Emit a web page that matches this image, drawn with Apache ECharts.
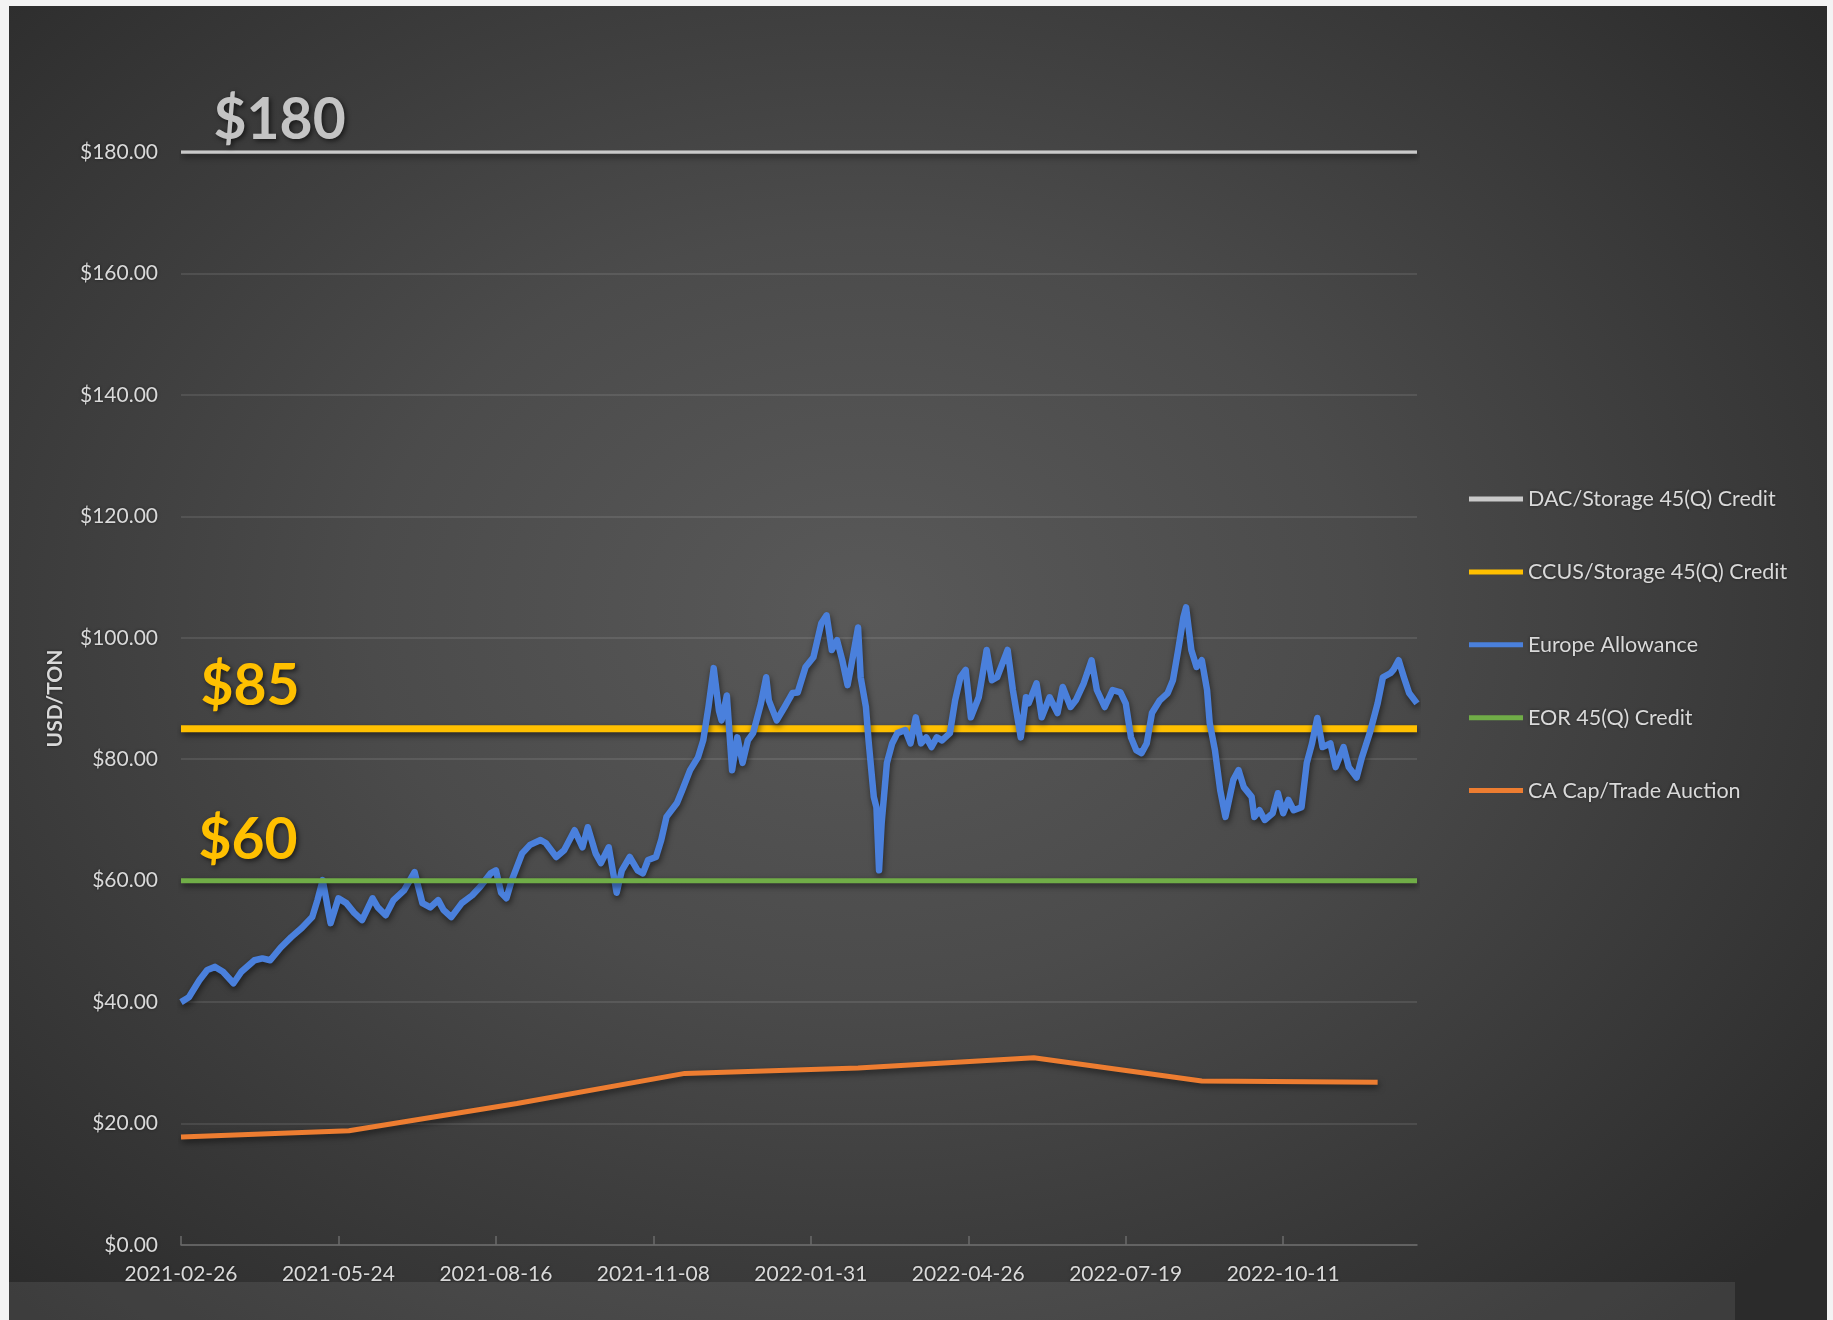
<!DOCTYPE html>
<html>
<head>
<meta charset="utf-8">
<title>Carbon price vs. 45(Q) credits</title>
<script src="https://cdn.jsdelivr.net/npm/echarts@6/dist/echarts.min.js"></script>
<style>
  html, body { margin: 0; padding: 0; background: #f3f3f3; overflow: hidden; }
  #chart {
    position: absolute; left: 9px; top: 6px; width: 1818px; height: 1314px;
    background: radial-gradient(ellipse 68% 72% at 47% 46%, #595959 0%, #4b4b4b 40%, #2b2b2b 100%);
  }
</style>
</head>
<body>
<div id="chart"></div>
<script>
// Labelled dates on the horizontal axis (every 60 trading days)
const tickDates = ['2021-02-26', '2021-05-24', '2021-08-16', '2021-11-08',
                   '2022-01-31', '2022-04-26', '2022-07-19', '2022-10-11'];
const daysPerTick = 60;
const lastDay = 471;

// Flat credit levels, USD/ton
const dacCredit = 180;
const ccusCredit = 85;
const eorCredit = 60;

// Europe Allowance price: trading-day index and USD/ton
const euaDay = [
  0, 3, 7, 10, 13, 16, 20, 23, 28, 31, 34, 38, 42, 46, 50, 52, 54, 57, 60, 63,
  66, 69, 73, 75, 78, 81, 85, 89, 92, 95, 98, 100, 103, 107, 111, 114, 118, 120, 122, 124,
  126, 130, 133, 137, 139, 143, 146, 150, 153, 155, 158, 160, 163, 166, 168, 171, 174, 176, 178, 181,
  183, 185, 189, 191, 194, 197, 199, 201, 203, 205, 206, 208, 210, 212, 214, 216, 218, 221, 223, 224,
  227, 230, 233, 235, 238, 241, 244, 246, 248, 250, 252, 254, 256, 258, 259, 261, 262, 264, 265, 266,
  267, 269, 271, 273, 276, 278, 280, 282, 284, 286, 288, 290, 293, 295, 297, 299, 301, 304, 307, 309,
  311, 315, 317, 320, 322, 323, 326, 328, 331, 334, 336, 339, 341, 344, 347, 349, 352, 355, 358, 360,
  362, 364, 366, 368, 370, 373, 376, 378, 380, 382, 383, 385, 387, 389, 391, 392, 394, 396, 398, 401,
  403, 405, 408, 409, 411, 413, 416, 418, 420, 422, 424, 427, 429, 431, 433, 435, 438, 440, 443, 445,
  448, 450, 453, 456, 458, 461, 462, 464, 466, 468, 471
];
const euaPrice = [
  40.0, 40.8, 43.6, 45.3, 45.8, 45.0, 43.1, 45.0, 46.9, 47.2, 46.9, 49.0, 50.7, 52.2, 54.0, 56.8, 60.1, 53.0, 57.1, 56.3,
  54.7, 53.5, 57.1, 55.6, 54.3, 56.8, 58.4, 61.4, 56.3, 55.6, 56.8, 55.2, 54.0, 56.3, 57.6, 59.0, 61.2, 61.7, 58.0, 57.1,
  60.0, 64.5, 65.9, 66.7, 66.2, 63.9, 65.0, 68.3, 65.5, 68.8, 64.5, 62.9, 65.5, 58.0, 61.7, 63.9, 61.7, 61.2, 63.4, 63.9,
  66.7, 70.5, 72.8, 74.9, 78.2, 80.3, 83.1, 88.6, 95.0, 88.0, 86.4, 90.5, 78.2, 83.6, 79.4, 83.1, 84.3, 89.2, 93.5, 89.7,
  86.4, 88.6, 90.9, 91.0, 95.2, 96.8, 102.4, 103.7, 98.0, 99.6, 96.3, 92.2, 96.8, 101.7, 93.5, 88.6, 83.1, 73.8, 72.1, 61.7,
  69.5, 79.4, 82.6, 84.3, 84.8, 82.6, 86.9, 82.6, 83.6, 82.0, 83.6, 83.1, 84.3, 89.7, 93.5, 94.7, 86.9, 90.2, 98.0, 93.0,
  93.5, 98.0, 91.4, 83.6, 90.2, 89.2, 92.5, 86.9, 90.2, 87.6, 91.9, 88.6, 89.7, 92.5, 96.3, 91.4, 88.6, 91.4, 91.0, 89.2,
  83.6, 81.5, 81.0, 82.6, 87.6, 89.7, 90.9, 93.0, 98.0, 103.4, 105.0, 98.0, 95.2, 96.3, 91.4, 86.0, 81.5, 74.9, 70.5, 76.6,
  78.2, 75.4, 73.8, 70.5, 71.6, 70.0, 71.1, 74.4, 71.1, 73.3, 71.6, 72.1, 79.4, 82.6, 86.8, 82.0, 82.6, 78.7, 82.0, 78.7,
  77.0, 80.3, 84.3, 89.2, 93.5, 94.2, 94.7, 96.3, 93.5, 90.9, 89.2
];

// California cap-and-trade quarterly auction settlement prices
const caDay = [0, 64, 128, 192, 258, 325, 389, 456];
const caPrice = [17.80, 18.80, 23.30, 28.26, 29.15, 30.85, 27.00, 26.80];

const textFont = 'Lato';
const axisText = '#d9d9d9';
const lineShadow = {
  shadowColor: 'rgba(0,0,0,0.55)', shadowBlur: 6, shadowOffsetX: 1, shadowOffsetY: 3
};

function flatLine(level) {
  return [[0, level], [lastDay, level]];
}

function pairs(xs, ys) {
  return xs.map((x, i) => [x, ys[i]]);
}

// Big "$NN" callout sitting just above the start of a credit line
function levelCallout(level, color, dx, dy) {
  return {
    silent: true,
    symbol: 'circle',
    symbolSize: 1,
    itemStyle: { color: 'rgba(0,0,0,0)' },
    data: [{
      coord: [0, level],
      label: {
        show: true,
        formatter: '$' + level,
        position: [dx, dy],
        align: 'left',
        verticalAlign: 'middle',
        color: color,
        fontFamily: textFont,
        fontWeight: 'bold',
        fontSize: 57,
        textShadowColor: 'rgba(0,0,0,0.6)',
        textShadowBlur: 5,
        textShadowOffsetX: 2,
        textShadowOffsetY: 2
      }
    }]
  };
}

const chart = echarts.init(document.getElementById('chart'), null, { renderer: 'canvas' });

chart.setOption({
  animation: false,
  backgroundColor: 'transparent',
  textStyle: { fontFamily: textFont },
  grid: { left: 172, top: 146, width: 1236, height: 1093, containLabel: false },
  graphic: [{
    type: 'rect',
    z: -1,
    shape: { x: 0, y: 1276, width: 1726, height: 40 },
    style: { fill: 'rgba(255,255,255,0.085)' }
  }],
  legend: {
    orient: 'vertical',
    left: 1460,
    top: 482,
    padding: 0,
    icon: 'rect',
    itemWidth: 54,
    itemHeight: 5,
    itemGap: 50.9,
    textStyle: {
      color: axisText, fontSize: 21.5, lineHeight: 20, fontFamily: textFont,
      textShadowColor: 'rgba(0,0,0,0.5)', textShadowBlur: 3
    },
    data: ['DAC/Storage 45(Q) Credit', 'CCUS/Storage 45(Q) Credit', 'Europe Allowance',
           'EOR 45(Q) Credit', 'CA Cap/Trade Auction']
  },
  xAxis: {
    type: 'value',
    min: 0,
    max: lastDay,
    axisLine: { show: true, lineStyle: { color: '#6b6b6b', width: 1.5 } },
    axisTick: {
      show: true, inside: true, length: 9,
      customValues: tickDates.map((d, i) => i * daysPerTick),
      lineStyle: { color: '#6b6b6b', width: 1.5 }
    },
    axisLabel: {
      customValues: tickDates.map((d, i) => i * daysPerTick),
      formatter: v => tickDates[Math.round(v / daysPerTick)] || '',
      color: axisText, fontSize: 21, fontFamily: textFont, margin: 19,
      textShadowColor: 'rgba(0,0,0,0.5)', textShadowBlur: 3
    },
    splitLine: { show: false }
  },
  yAxis: {
    type: 'value',
    min: 0,
    max: 180,
    interval: 20,
    name: 'USD/TON',
    nameLocation: 'middle',
    nameGap: 115,
    nameTextStyle: {
      color: axisText, fontSize: 21, fontWeight: 'bold', fontFamily: textFont,
      textShadowColor: 'rgba(0,0,0,0.5)', textShadowBlur: 3
    },
    axisLine: { show: false },
    axisTick: { show: false },
    axisLabel: {
      formatter: v => '$' + v.toFixed(2),
      color: axisText, fontSize: 21, fontFamily: textFont, margin: 23,
      textShadowColor: 'rgba(0,0,0,0.5)', textShadowBlur: 3
    },
    splitLine: { lineStyle: { color: 'rgba(255,255,255,0.13)', width: 1.5 } }
  },
  series: [
    {
      name: 'DAC/Storage 45(Q) Credit',
      type: 'line',
      symbol: 'none',
      color: '#c9c9c9',
      lineStyle: Object.assign({ color: '#c9c9c9', width: 3.5 }, lineShadow),
      data: flatLine(dacCredit),
      markPoint: levelCallout(dacCredit, '#c4c4c4', 33, -31)
    },
    {
      name: 'CCUS/Storage 45(Q) Credit',
      type: 'line',
      symbol: 'none',
      color: '#FFC000',
      lineStyle: Object.assign({ color: '#FFC000', width: 7 }, lineShadow),
      data: flatLine(ccusCredit),
      markPoint: levelCallout(ccusCredit, '#FFC000', 20, -42)
    },
    {
      name: 'Europe Allowance',
      type: 'line',
      symbol: 'none',
      color: '#4a80dc',
      lineStyle: Object.assign({ color: '#4a80dc', width: 6.5, join: 'round' }, lineShadow),
      data: pairs(euaDay, euaPrice)
    },
    {
      name: 'EOR 45(Q) Credit',
      type: 'line',
      symbol: 'none',
      color: '#70AD47',
      lineStyle: Object.assign({ color: '#70AD47', width: 5 }, lineShadow),
      data: flatLine(eorCredit),
      markPoint: levelCallout(eorCredit, '#FFC000', 18, -40)
    },
    {
      name: 'CA Cap/Trade Auction',
      type: 'line',
      symbol: 'none',
      color: '#ED7D31',
      lineStyle: Object.assign({ color: '#ED7D31', width: 5 }, lineShadow),
      data: pairs(caDay, caPrice)
    }
  ]
});
</script>
</body>
</html>
